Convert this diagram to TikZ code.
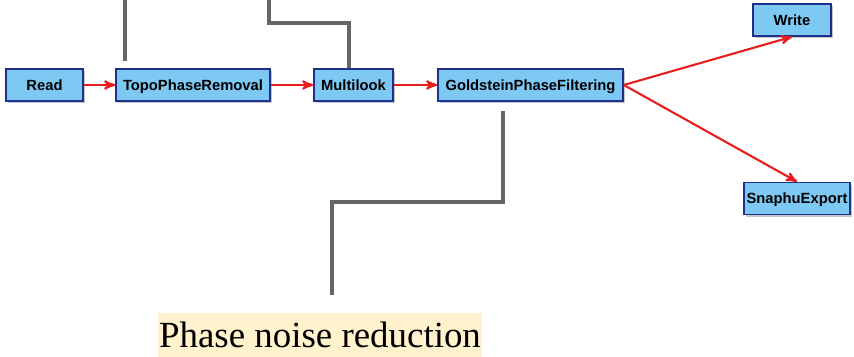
\documentclass[tikz,border=0pt]{standalone}
\usepackage{fontspec}
\setmainfont{Liberation Serif}
\newfontfamily\boxfont{Liberation Sans}
\usepackage{tikz}
\usetikzlibrary{arrows,shadows}

\definecolor{opfill}{RGB}{126,200,244}
\definecolor{opline}{RGB}{30,48,140}
\definecolor{flowred}{RGB}{232,30,30}
\definecolor{notegray}{RGB}{102,102,102}
\definecolor{notebg}{RGB}{255,242,204}

\tikzset{
    op/.style={draw=opline,fill=opfill,line width=0.9pt,minimum height=0.64cm,
        inner xsep=0.12cm,text height=6pt,text depth=0pt,
        font=\boxfont\bfseries\fontsize{8.4}{10}\selectfont,
        drop shadow={shadow xshift=1.2pt,shadow yshift=-1.2pt,opacity=0.45}},
    flow/.style={->,>=stealth',draw=flowred,line width=1.2pt},
    note/.style={draw=notegray,line width=1.8pt}
}

\begin{document}
\begin{tikzpicture}
    \useasboundingbox (0,0) rectangle (17.08,7.14);

    \node[op,minimum width=1.54cm] (read) at (0.89,5.44) {Read};
    \node[op,minimum width=3.08cm] (topo) [right of=read,node distance=2.97cm] {TopoPhaseRemoval};
    \node[op,minimum width=1.58cm] (multi) [right of=topo,node distance=3.21cm] {Multilook};
    \node[op,minimum width=3.7cm] (gold) [right of=multi,node distance=3.54cm] {GoldsteinPhaseFiltering};
    \node[op,minimum width=1.56cm] (write) at (15.84,6.74) {Write};
    \node[op,minimum width=2.1cm,inner xsep=0.05cm] (snaphu) at (15.94,3.17) {SnaphuExport};

    \node[fill=notebg,inner sep=0pt,minimum width=6.48cm,minimum height=0.88cm,
        font=\fontsize{21}{24}\selectfont] (phase) at (6.4,0.44) {Phase noise reduction};

    \draw[flow] (read) -- (topo);
    \draw[flow] (topo) -- (multi);
    \draw[flow] (multi) -- (gold);
    \draw[flow] (gold.east) -- (write.south);
    \draw[flow] (gold.east) -- (snaphu.north);

    % callout lines
    \coordinate (ta) at (2.5,7.14);
    \coordinate (tb) at (5.38,7.14);
    \coordinate (tc) at (6.98,6.68);
    \coordinate (ba) at (10.06,3.1);
    \coordinate (bb) at (6.64,3.1);

    \draw[note,shorten >=0.14cm] (ta) -- (ta |- topo.north);
    \draw[note] (tb) |- (tc) -- (tc |- multi.north);
    \draw[note,shorten >=0.36cm] (ba |- gold.south) ++(0,-0.18) -- (ba) -- (bb) -- (bb |- phase.north);
\end{tikzpicture}
\end{document}
